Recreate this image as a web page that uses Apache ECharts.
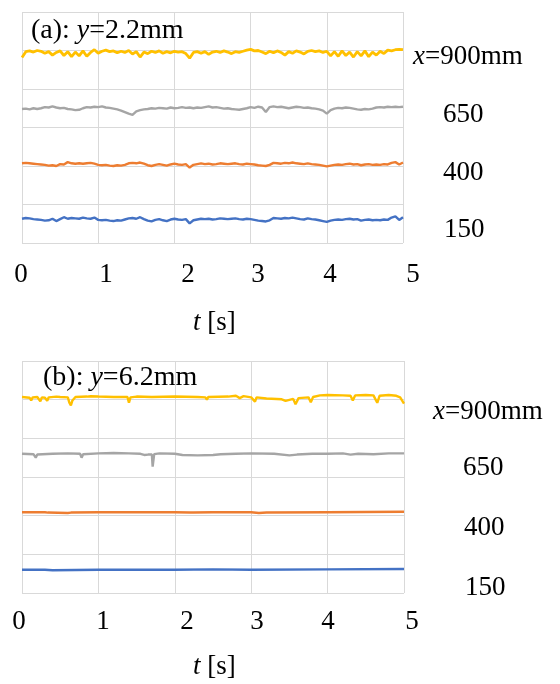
<!DOCTYPE html>
<html>
<head>
<meta charset="utf-8">
<script src="https://cdn.jsdelivr.net/npm/echarts@6/dist/echarts.min.js"></script>
<style>html,body{margin:0;padding:0;background:#fff}#c{width:560px;height:684px}</style>
</head>
<body>
<div id="c"></div>
<script>
// ---- data ----
const tickLabels = ['0', '1', '2', '3', '4', '5'];
const seriesNames = ['150', '400', '650', '900'];
const titleA = 'y=2.2mm';
const titleB = 'y=6.2mm';

// panel (a): samples every 0.05 s from 0 to 5 s
const a150 = [0.63,0.65,0.64,0.62,0.61,0.60,0.58,0.59,0.63,0.57,0.62,0.67,0.63,0.65,0.64,0.63,0.66,0.64,0.63,0.66,
0.60,0.59,0.60,0.58,0.57,0.59,0.58,0.61,0.64,0.65,0.63,0.67,0.62,0.58,0.56,0.60,0.62,0.59,0.57,0.61,
0.63,0.61,0.60,0.62,0.51,0.59,0.61,0.63,0.62,0.63,0.61,0.62,0.64,0.63,0.62,0.63,0.64,0.62,0.61,0.63,
0.62,0.60,0.58,0.57,0.56,0.59,0.65,0.64,0.63,0.65,0.64,0.66,0.64,0.62,0.61,0.64,0.62,0.61,0.59,0.57,
0.55,0.58,0.60,0.61,0.60,0.62,0.63,0.61,0.62,0.58,0.60,0.61,0.59,0.60,0.59,0.61,0.60,0.66,0.69,0.60,0.67];
const a400 = [2.07,2.08,2.07,2.06,2.05,2.04,2.03,2.01,2.02,2.00,2.05,2.04,2.10,2.07,2.06,2.07,2.06,2.07,2.08,2.06,
2.03,2.02,2.03,2.01,2.00,2.02,2.01,2.03,2.07,2.08,2.07,2.09,2.06,2.02,2.00,2.03,2.05,2.03,2.01,2.04,
2.06,2.04,2.03,2.05,1.96,2.03,2.05,2.07,2.05,2.06,2.04,2.05,2.07,2.06,2.05,2.06,2.07,2.05,2.04,2.06,
2.05,2.04,2.02,2.01,2.00,2.03,2.08,2.07,2.06,2.08,2.07,2.09,2.07,2.06,2.05,2.07,2.05,2.04,2.03,2.01,
1.99,2.01,2.03,2.04,2.03,2.05,2.06,2.04,2.05,2.02,2.04,2.05,2.03,2.04,2.03,2.05,2.04,2.08,2.10,2.04,2.09];
const a650 = [3.48,3.49,3.47,3.50,3.48,3.50,3.53,3.52,3.55,3.52,3.50,3.51,3.48,3.47,3.45,3.46,3.50,3.53,3.52,3.54,
3.53,3.55,3.52,3.51,3.49,3.47,3.44,3.40,3.36,3.33,3.42,3.45,3.47,3.48,3.50,3.49,3.51,3.50,3.49,3.52,
3.50,3.51,3.53,3.51,3.52,3.50,3.52,3.51,3.53,3.55,3.52,3.53,3.51,3.49,3.50,3.48,3.47,3.46,3.48,3.50,
3.53,3.51,3.54,3.52,3.40,3.53,3.55,3.53,3.54,3.52,3.50,3.52,3.54,3.53,3.51,3.52,3.50,3.49,3.47,3.44,
3.36,3.45,3.49,3.51,3.50,3.52,3.51,3.49,3.47,3.46,3.48,3.47,3.49,3.52,3.53,3.52,3.54,3.53,3.54,3.53,3.54];
const a900 = [4.82,4.97,4.99,4.96,5.00,4.98,4.93,4.97,4.88,4.95,4.99,4.87,4.97,4.84,4.96,4.86,4.99,4.85,4.95,5.02,
4.93,4.98,5.01,4.97,4.99,4.94,4.98,4.95,5.00,4.91,4.97,4.83,4.96,4.92,4.98,4.95,4.99,4.93,4.97,4.94,
4.98,4.96,4.97,4.92,4.80,4.95,4.97,4.93,4.97,4.90,4.96,4.98,4.95,4.99,4.96,4.92,4.97,4.95,4.98,5.01,
5.03,4.99,5.00,4.96,4.92,4.98,4.94,4.99,4.95,4.88,4.97,4.93,4.99,4.96,4.91,4.98,5.00,4.97,4.99,4.95,
4.98,4.86,4.97,4.85,4.99,4.87,4.96,4.83,4.97,4.86,4.99,4.84,4.96,4.88,4.98,4.92,5.01,4.99,5.02,5.03,5.02];

// panel (b): [t, value] pairs
const b150 = [[0,0.60],[0.3,0.60],[0.4,0.59],[1.0,0.60],[2.0,0.60],[2.5,0.61],[3.0,0.60],[4.0,0.61],[5.0,0.62]];
const b400 = [[0,2.09],[0.3,2.09],[0.32,2.06],[0.34,2.08],[0.6,2.07],[0.62,2.03],[0.64,2.08],[1.0,2.09],[2.0,2.09],[2.2,2.08],
[2.22,2.04],[2.24,2.08],[2.5,2.09],[3.0,2.09],[3.1,2.07],[3.2,2.08],[4.0,2.09],[5.0,2.10]];
const b650 = [[0,3.60],[0.15,3.59],[0.18,3.50],[0.2,3.58],[0.4,3.60],[0.6,3.61],[0.76,3.60],[0.78,3.50],[0.8,3.59],[1.0,3.61],
[1.2,3.62],[1.4,3.61],[1.55,3.60],[1.6,3.57],[1.65,3.58],[1.70,3.58],[1.71,3.27],[1.73,3.59],[1.8,3.61],[2.0,3.60],
[2.1,3.57],[2.3,3.56],[2.5,3.57],[2.6,3.59],[2.8,3.60],[3.0,3.61],[3.3,3.60],[3.5,3.56],[3.6,3.58],[3.8,3.60],
[4.0,3.60],[4.2,3.61],[4.3,3.58],[4.4,3.60],[4.6,3.59],[4.8,3.61],[5.0,3.61]];
const b900 = [[0,5.07],[0.1,5.05],[0.12,4.98],[0.14,5.06],[0.2,5.07],[0.24,4.96],[0.26,5.06],[0.3,5.05],[0.33,4.97],[0.35,5.06],
[0.45,5.08],[0.5,5.07],[0.6,5.06],[0.62,4.92],[0.64,4.85],[0.66,4.98],[0.7,5.07],[0.85,5.08],[0.9,5.09],[1.0,5.08],
[1.2,5.07],[1.38,5.07],[1.40,4.92],[1.42,5.06],[1.5,5.08],[1.7,5.07],[2.0,5.08],[2.3,5.07],[2.4,5.06],[2.42,5.0],
[2.44,5.07],[2.7,5.08],[2.8,5.10],[2.85,5.04],[2.9,5.09],[3.0,5.06],[3.05,4.95],[3.07,5.06],[3.2,5.03],[3.4,5.01],
[3.45,4.97],[3.47,5.02],[3.55,5.02],[3.58,4.88],[3.62,5.04],[3.75,5.06],[3.78,4.93],[3.81,5.07],[3.9,5.11],[4.0,5.12],
[4.2,5.11],[4.3,5.10],[4.33,4.98],[4.36,5.11],[4.5,5.12],[4.6,5.11],[4.65,4.92],[4.68,5.10],[4.8,5.12],[4.9,5.10],
[4.95,5.06],[5.0,4.90]];

// ---- chart ----
const tA = a150.map((_, i) => +(i * 0.05).toFixed(2));
const pair = arr => arr.map((v, i) => [tA[i], v]);

const colors = ['#4472C4', '#ED7D31', '#A5A5A5', '#FFC000'];
const GRID = '#D9D9D9';
const FONT = '"Liberation Serif","Times New Roman",serif';

function xAx(gi) {
  return { type: 'value', gridIndex: gi, min: 0, max: 5, interval: 1,
    axisLine: { show: false }, axisTick: { show: false }, axisLabel: { show: false },
    splitLine: { show: true, lineStyle: { color: GRID, width: 1 } } };
}
function yAx(gi) {
  return { type: 'value', gridIndex: gi, min: 0, max: 6, interval: 1,
    axisLine: { show: false }, axisTick: { show: false }, axisLabel: { show: false },
    splitLine: { show: true, lineStyle: { color: GRID, width: 1 } } };
}
function line(data, gi, ci, w) {
  return { type: 'line', xAxisIndex: gi, yAxisIndex: gi, data: data, showSymbol: false,
    symbol: 'none', animation: false, lineStyle: { color: colors[ci], width: w }, z: 3 + ci };
}

const aSets = [a150, a400, a650, a900];
const bSets = [b150, b400, b650, b900];
const series = [];
aSets.forEach((s, i) => series.push(line(pair(s), 0, i, i === 3 ? 2.8 : 2.4)));
bSets.forEach((s, i) => series.push(line(s, 1, i, 2.4)));

const tickXA = [21, 106, 188, 258, 330, 413];
const tickXB = [19, 103, 187, 257, 328, 412];
const g = [];
function txt(text, x, y, align, size, rich) {
  const st = { text: text, x: x, y: y, fill: '#000', font: size + 'px ' + FONT,
    textAlign: align, textVerticalAlign: 'middle' };
  if (rich) {
    st.rich = {
      i: { fontFamily: FONT, fontSize: size, fontStyle: 'italic', fill: '#000' },
      n: { fontFamily: FONT, fontSize: size, fill: '#000' }
    };
  }
  g.push({ type: 'text', style: st, z: 100 });
}
tickLabels.forEach((t, i) => { txt(t, tickXA[i], 275, 'center', 27); txt(t, tickXB[i], 622, 'center', 27); });
txt('{i|t}{n| [s]}', 193, 323, 'left', 27, true);
txt('{i|t}{n| [s]}', 193, 667, 'left', 27, true);
txt('{n|(a): }{i|y}{n|' + titleA.slice(1) + '}', 31, 31, 'left', 28, true);
txt('{n|(b): }{i|y}{n|' + titleB.slice(1) + '}', 43, 378, 'left', 28, true);
// right-side position labels
txt('{i|x}{n|=' + seriesNames[3] + 'mm}', 413, 57, 'left', 27, true);
txt(seriesNames[2], 443, 115, 'left', 27);
txt(seriesNames[1], 443, 173, 'left', 27);
txt(seriesNames[0], 444, 230, 'left', 27);
txt('{i|x}{n|=' + seriesNames[3] + 'mm}', 433, 412, 'left', 27, true);
txt(seriesNames[2], 463, 468, 'left', 27);
txt(seriesNames[1], 464, 528, 'left', 27);
txt(seriesNames[0], 465, 588, 'left', 27);

const chart = echarts.init(document.getElementById('c'), null, { renderer: 'canvas' });
chart.setOption({
  animation: false,
  backgroundColor: '#fff',
  grid: [
    { left: 22, top: 12, width: 381, height: 231 },
    { left: 22, top: 361, width: 382, height: 232 }
  ],
  xAxis: [xAx(0), xAx(1)],
  yAxis: [yAx(0), yAx(1)],
  series: series,
  graphic: g
});
</script>
</body>
</html>
